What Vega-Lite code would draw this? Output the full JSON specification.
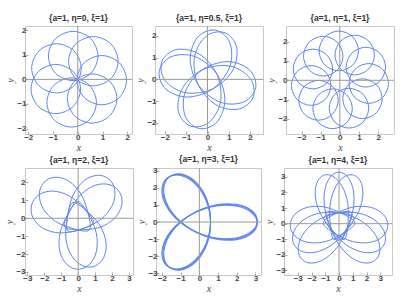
{
"$schema": "https://vega.github.io/schema/vega-lite/v6.json",
"padding": {"left": 4, "top": 13, "right": 2, "bottom": 2},
"config": {
 "view": {"stroke": "#c8c8c8", "strokeWidth": 1},
 "axis": {"grid": false, "domain": false, "tickColor": "#999999", "tickSize": -3, "tickWidth": 0.8, "labelOverlap": false, "labelBound": false, "labelFlush": false, "labelFont": "Liberation Sans", "labelFontSize": 8, "labelFontWeight": "bold", "labelColor": "#444444", "labelPadding": 2, "titleFont": "Liberation Serif", "titleFontStyle": "italic", "titleFontWeight": "normal", "titleFontSize": 10, "titleColor": "#444444", "titlePadding": 1},
 "title": {"font": "Liberation Sans", "fontSize": 8.5, "fontWeight": "bold", "color": "#333333", "offset": 3}
},
"datasets": {
"p1": [
{"k":0,"i":0,"x":0.815,"y":0.952},{"k":0,"i":1,"x":0.522,"y":1.659},{"k":0,"i":2,"x":-0.185,"y":1.952},{"k":0,"i":3,"x":-0.892,"y":1.659},{"k":0,"i":4,"x":-1.185,"y":0.952},{"k":0,"i":5,"x":-0.892,"y":0.245},{"k":0,"i":6,"x":-0.185,"y":-0.048},{"k":0,"i":7,"x":0.522,"y":0.245},
{"k":1,"i":0,"x":0.140,"y":0.449},{"k":1,"i":1,"x":-0.153,"y":1.156},{"k":1,"i":2,"x":-0.860,"y":1.449},{"k":1,"i":3,"x":-1.567,"y":1.156},{"k":1,"i":4,"x":-1.860,"y":0.449},{"k":1,"i":5,"x":-1.567,"y":-0.258},{"k":1,"i":6,"x":-0.860,"y":-0.551},{"k":1,"i":7,"x":-0.153,"y":-0.258},
{"k":2,"i":0,"x":0.113,"y":-0.392},{"k":2,"i":1,"x":-0.180,"y":0.315},{"k":2,"i":2,"x":-0.887,"y":0.608},{"k":2,"i":3,"x":-1.594,"y":0.315},{"k":2,"i":4,"x":-1.887,"y":-0.392},{"k":2,"i":5,"x":-1.594,"y":-1.099},{"k":2,"i":6,"x":-0.887,"y":-1.392},{"k":2,"i":7,"x":-0.180,"y":-1.099},
{"k":3,"i":0,"x":0.754,"y":-0.938},{"k":3,"i":1,"x":0.461,"y":-0.231},{"k":3,"i":2,"x":-0.246,"y":0.062},{"k":3,"i":3,"x":-0.953,"y":-0.231},{"k":3,"i":4,"x":-1.246,"y":-0.938},{"k":3,"i":5,"x":-0.953,"y":-1.645},{"k":3,"i":6,"x":-0.246,"y":-1.938},{"k":3,"i":7,"x":0.461,"y":-1.645},
{"k":4,"i":0,"x":1.580,"y":-0.778},{"k":4,"i":1,"x":1.287,"y":-0.071},{"k":4,"i":2,"x":0.580,"y":0.222},{"k":4,"i":3,"x":-0.127,"y":-0.071},{"k":4,"i":4,"x":-0.420,"y":-0.778},{"k":4,"i":5,"x":-0.127,"y":-1.485},{"k":4,"i":6,"x":0.580,"y":-1.778},{"k":4,"i":7,"x":1.287,"y":-1.485},
{"k":5,"i":0,"x":1.970,"y":-0.032},{"k":5,"i":1,"x":1.677,"y":0.675},{"k":5,"i":2,"x":0.970,"y":0.968},{"k":5,"i":3,"x":0.263,"y":0.675},{"k":5,"i":4,"x":-0.030,"y":-0.032},{"k":5,"i":5,"x":0.263,"y":-0.739},{"k":5,"i":6,"x":0.970,"y":-1.032},{"k":5,"i":7,"x":1.677,"y":-0.739},
{"k":6,"i":0,"x":1.629,"y":0.739},{"k":6,"i":1,"x":1.336,"y":1.446},{"k":6,"i":2,"x":0.629,"y":1.739},{"k":6,"i":3,"x":-0.078,"y":1.446},{"k":6,"i":4,"x":-0.371,"y":0.739},{"k":6,"i":5,"x":-0.078,"y":0.032},{"k":6,"i":6,"x":0.629,"y":-0.261},{"k":6,"i":7,"x":1.336,"y":0.032}
],
"p2": [
{"k":0,"i":0,"x":0.360,"y":2.272},{"k":0,"i":1,"x":-0.457,"y":1.954},{"k":0,"i":2,"x":-0.816,"y":0.918},{"k":0,"i":3,"x":-0.405,"y":-0.294},{"k":0,"i":4,"x":0.620,"y":-1.060},{"k":0,"i":5,"x":1.718,"y":-1.039},{"k":0,"i":6,"x":2.272,"y":-0.360},{"k":0,"i":7,"x":1.954,"y":0.457},{"k":0,"i":8,"x":0.918,"y":0.816},{"k":0,"i":9,"x":-0.295,"y":0.405},{"k":0,"i":10,"x":-1.060,"y":-0.620},{"k":0,"i":11,"x":-1.039,"y":-1.718},{"k":0,"i":12,"x":-0.360,"y":-2.272},{"k":0,"i":13,"x":0.457,"y":-1.954},{"k":0,"i":14,"x":0.816,"y":-0.918},{"k":0,"i":15,"x":0.405,"y":0.295},{"k":0,"i":16,"x":-0.620,"y":1.060},{"k":0,"i":17,"x":-1.718,"y":1.039},{"k":0,"i":18,"x":-2.272,"y":0.360},{"k":0,"i":19,"x":-1.954,"y":-0.457},{"k":0,"i":20,"x":-0.918,"y":-0.816},{"k":0,"i":21,"x":0.295,"y":-0.405},{"k":0,"i":22,"x":1.060,"y":0.620},{"k":0,"i":23,"x":1.039,"y":1.718},
{"k":1,"i":0,"x":0.824,"y":2.147},{"k":1,"i":1,"x":-0.041,"y":2.007},{"k":1,"i":2,"x":-0.608,"y":1.067},{"k":1,"i":3,"x":-0.457,"y":-0.203},{"k":1,"i":4,"x":0.387,"y":-1.166},{"k":1,"i":5,"x":1.465,"y":-1.373},{"k":1,"i":6,"x":2.147,"y":-0.824},{"k":1,"i":7,"x":2.007,"y":0.041},{"k":1,"i":8,"x":1.067,"y":0.608},{"k":1,"i":9,"x":-0.203,"y":0.457},{"k":1,"i":10,"x":-1.166,"y":-0.387},{"k":1,"i":11,"x":-1.373,"y":-1.465},{"k":1,"i":12,"x":-0.824,"y":-2.147},{"k":1,"i":13,"x":0.041,"y":-2.007},{"k":1,"i":14,"x":0.608,"y":-1.067},{"k":1,"i":15,"x":0.457,"y":0.203},{"k":1,"i":16,"x":-0.387,"y":1.166},{"k":1,"i":17,"x":-1.465,"y":1.373},{"k":1,"i":18,"x":-2.147,"y":0.824},{"k":1,"i":19,"x":-2.007,"y":-0.041},{"k":1,"i":20,"x":-1.067,"y":-0.608},{"k":1,"i":21,"x":0.203,"y":-0.457},{"k":1,"i":22,"x":1.166,"y":0.387},{"k":1,"i":23,"x":1.373,"y":1.465}
],
"p3": [
{"k":0,"i":0,"x":0.977,"y":1.519},{"k":0,"i":1,"x":0.675,"y":2.247},{"k":0,"i":2,"x":-0.053,"y":2.549},{"k":0,"i":3,"x":-0.781,"y":2.247},{"k":0,"i":4,"x":-1.083,"y":1.519},{"k":0,"i":5,"x":-0.781,"y":0.791},{"k":0,"i":6,"x":-0.053,"y":0.489},{"k":0,"i":7,"x":0.675,"y":0.791},
{"k":1,"i":0,"x":0.164,"y":1.249},{"k":1,"i":1,"x":-0.138,"y":1.977},{"k":1,"i":2,"x":-0.866,"y":2.279},{"k":1,"i":3,"x":-1.594,"y":1.977},{"k":1,"i":4,"x":-1.896,"y":1.249},{"k":1,"i":5,"x":-1.594,"y":0.521},{"k":1,"i":6,"x":-0.866,"y":0.219},{"k":1,"i":7,"x":-0.138,"y":0.521},
{"k":2,"i":0,"x":-0.374,"y":0.583},{"k":2,"i":1,"x":-0.676,"y":1.311},{"k":2,"i":2,"x":-1.404,"y":1.613},{"k":2,"i":3,"x":-2.132,"y":1.311},{"k":2,"i":4,"x":-2.434,"y":0.583},{"k":2,"i":5,"x":-2.132,"y":-0.145},{"k":2,"i":6,"x":-1.404,"y":-0.447},{"k":2,"i":7,"x":-0.676,"y":-0.145},
{"k":3,"i":0,"x":-0.466,"y":-0.269},{"k":3,"i":1,"x":-0.768,"y":0.459},{"k":3,"i":2,"x":-1.496,"y":0.761},{"k":3,"i":3,"x":-2.224,"y":0.459},{"k":3,"i":4,"x":-2.526,"y":-0.269},{"k":3,"i":5,"x":-2.224,"y":-0.997},{"k":3,"i":6,"x":-1.496,"y":-1.299},{"k":3,"i":7,"x":-0.768,"y":-0.997},
{"k":4,"i":0,"x":-0.083,"y":-1.035},{"k":4,"i":1,"x":-0.385,"y":-0.307},{"k":4,"i":2,"x":-1.113,"y":-0.005},{"k":4,"i":3,"x":-1.841,"y":-0.307},{"k":4,"i":4,"x":-2.143,"y":-1.035},{"k":4,"i":5,"x":-1.841,"y":-1.763},{"k":4,"i":6,"x":-1.113,"y":-2.065},{"k":4,"i":7,"x":-0.385,"y":-1.763},
{"k":5,"i":0,"x":0.653,"y":-1.473},{"k":5,"i":1,"x":0.351,"y":-0.745},{"k":5,"i":2,"x":-0.377,"y":-0.443},{"k":5,"i":3,"x":-1.105,"y":-0.745},{"k":5,"i":4,"x":-1.407,"y":-1.473},{"k":5,"i":5,"x":-1.105,"y":-2.201},{"k":5,"i":6,"x":-0.377,"y":-2.503},{"k":5,"i":7,"x":0.351,"y":-2.201},
{"k":6,"i":0,"x":1.509,"y":-1.443},{"k":6,"i":1,"x":1.207,"y":-0.715},{"k":6,"i":2,"x":0.479,"y":-0.413},{"k":6,"i":3,"x":-0.249,"y":-0.715},{"k":6,"i":4,"x":-0.551,"y":-1.443},{"k":6,"i":5,"x":-0.249,"y":-2.171},{"k":6,"i":6,"x":0.479,"y":-2.473},{"k":6,"i":7,"x":1.207,"y":-2.171},
{"k":7,"i":0,"x":2.213,"y":-0.954},{"k":7,"i":1,"x":1.911,"y":-0.226},{"k":7,"i":2,"x":1.183,"y":0.076},{"k":7,"i":3,"x":0.455,"y":-0.226},{"k":7,"i":4,"x":0.153,"y":-0.954},{"k":7,"i":5,"x":0.455,"y":-1.682},{"k":7,"i":6,"x":1.183,"y":-1.984},{"k":7,"i":7,"x":1.911,"y":-1.682},
{"k":8,"i":0,"x":2.541,"y":-0.164},{"k":8,"i":1,"x":2.239,"y":0.564},{"k":8,"i":2,"x":1.511,"y":0.866},{"k":8,"i":3,"x":0.783,"y":0.564},{"k":8,"i":4,"x":0.481,"y":-0.164},{"k":8,"i":5,"x":0.783,"y":-0.892},{"k":8,"i":6,"x":1.511,"y":-1.194},{"k":8,"i":7,"x":2.239,"y":-0.892},
{"k":9,"i":0,"x":2.390,"y":0.679},{"k":9,"i":1,"x":2.088,"y":1.407},{"k":9,"i":2,"x":1.360,"y":1.709},{"k":9,"i":3,"x":0.632,"y":1.407},{"k":9,"i":4,"x":0.330,"y":0.679},{"k":9,"i":5,"x":0.632,"y":-0.049},{"k":9,"i":6,"x":1.360,"y":-0.351},{"k":9,"i":7,"x":2.088,"y":-0.049},
{"k":10,"i":0,"x":1.807,"y":1.307},{"k":10,"i":1,"x":1.505,"y":2.035},{"k":10,"i":2,"x":0.777,"y":2.337},{"k":10,"i":3,"x":0.049,"y":2.035},{"k":10,"i":4,"x":-0.253,"y":1.307},{"k":10,"i":5,"x":0.049,"y":0.579},{"k":10,"i":6,"x":0.777,"y":0.277},{"k":10,"i":7,"x":1.505,"y":0.579}
],
"p4": [
{"k":0,"i":0,"x":0.000,"y":0.926},{"k":0,"i":1,"x":-0.575,"y":0.276},{"k":0,"i":2,"x":-1.067,"y":-0.812},{"k":0,"i":3,"x":-1.081,"y":-1.844},{"k":0,"i":4,"x":-0.663,"y":-2.582},{"k":0,"i":5,"x":0.000,"y":-2.850},{"k":0,"i":6,"x":0.663,"y":-2.582},{"k":0,"i":7,"x":1.081,"y":-1.844},{"k":0,"i":8,"x":1.067,"y":-0.812},{"k":0,"i":9,"x":0.575,"y":0.276},
{"k":1,"i":0,"x":-0.317,"y":0.870},{"k":1,"i":1,"x":-0.634,"y":0.062},{"k":1,"i":2,"x":-0.725,"y":-1.128},{"k":1,"i":3,"x":-0.385,"y":-2.103},{"k":1,"i":4,"x":0.260,"y":-2.653},{"k":1,"i":5,"x":0.975,"y":-2.678},{"k":1,"i":6,"x":1.506,"y":-2.199},{"k":1,"i":7,"x":1.647,"y":-1.363},{"k":1,"i":8,"x":1.281,"y":-0.398},{"k":1,"i":9,"x":0.446,"y":0.456},
{"k":2,"i":0,"x":-0.802,"y":-0.463},{"k":2,"i":1,"x":0.049,"y":-0.636},{"k":2,"i":2,"x":1.237,"y":-0.518},{"k":2,"i":3,"x":2.138,"y":-0.014},{"k":2,"i":4,"x":2.568,"y":0.717},{"k":2,"i":5,"x":2.468,"y":1.425},{"k":2,"i":6,"x":1.904,"y":1.865},{"k":2,"i":7,"x":1.056,"y":1.858},{"k":2,"i":8,"x":0.169,"y":1.330},{"k":2,"i":9,"x":-0.527,"y":0.360},
{"k":3,"i":0,"x":-0.595,"y":-0.709},{"k":3,"i":1,"x":0.263,"y":-0.581},{"k":3,"i":2,"x":1.339,"y":-0.064},{"k":3,"i":3,"x":2.013,"y":0.718},{"k":3,"i":4,"x":2.168,"y":1.552},{"k":3,"i":5,"x":1.832,"y":2.183},{"k":3,"i":6,"x":1.152,"y":2.404},{"k":3,"i":7,"x":0.357,"y":2.108},{"k":3,"i":8,"x":-0.295,"y":1.308},{"k":3,"i":9,"x":-0.617,"y":0.159},
{"k":4,"i":0,"x":0.894,"y":-0.240},{"k":4,"i":1,"x":0.416,"y":0.484},{"k":4,"i":2,"x":-0.508,"y":1.241},{"k":4,"i":3,"x":-1.501,"y":1.521},{"k":4,"i":4,"x":-2.322,"y":1.308},{"k":4,"i":5,"x":-2.753,"y":0.738},{"k":4,"i":6,"x":-2.666,"y":0.028},{"k":4,"i":7,"x":-2.061,"y":-0.567},{"k":4,"i":8,"x":-1.060,"y":-0.821},{"k":4,"i":9,"x":0.118,"y":-0.626},
{"k":5,"i":0,"x":0.655,"y":-0.655},{"k":5,"i":1,"x":0.602,"y":0.211},{"k":5,"i":2,"x":0.180,"y":1.329},{"k":5,"i":3,"x":-0.540,"y":2.068},{"k":5,"i":4,"x":-1.357,"y":2.295},{"k":5,"i":5,"x":-2.015,"y":2.015},{"k":5,"i":6,"x":-2.295,"y":1.357},{"k":5,"i":7,"x":-2.068,"y":0.540},{"k":5,"i":8,"x":-1.329,"y":-0.180},{"k":5,"i":9,"x":-0.211,"y":-0.602}
],
"p5": [
{"k":0,"i":0,"x":3.100,"y":0.000},{"k":0,"i":1,"x":2.809,"y":0.602},{"k":0,"i":2,"x":2.008,"y":0.977},{"k":0,"i":3,"x":0.884,"y":0.966},{"k":0,"i":4,"x":-0.300,"y":0.520},{"k":0,"i":5,"x":-1.279,"y":-0.282},{"k":0,"i":6,"x":-1.850,"y":-1.250},{"k":0,"i":7,"x":-1.926,"y":-2.132},{"k":0,"i":8,"x":-1.550,"y":-2.685},{"k":0,"i":9,"x":-0.883,"y":-2.734},{"k":0,"i":10,"x":-0.158,"y":-2.227},{"k":0,"i":11,"x":0.395,"y":-1.249},{"k":0,"i":12,"x":0.600,"y":0.000},{"k":0,"i":13,"x":0.395,"y":1.249},{"k":0,"i":14,"x":-0.158,"y":2.227},{"k":0,"i":15,"x":-0.883,"y":2.734},{"k":0,"i":16,"x":-1.550,"y":2.685},{"k":0,"i":17,"x":-1.926,"y":2.132},{"k":0,"i":18,"x":-1.850,"y":1.250},{"k":0,"i":19,"x":-1.279,"y":0.282},{"k":0,"i":20,"x":-0.300,"y":-0.520},{"k":0,"i":21,"x":0.884,"y":-0.966},{"k":0,"i":22,"x":2.008,"y":-0.977},{"k":0,"i":23,"x":2.809,"y":-0.602},
{"k":1,"i":0,"x":3.100,"y":0.081},{"k":1,"i":1,"x":2.793,"y":0.676},{"k":1,"i":2,"x":1.982,"y":1.030},{"k":1,"i":3,"x":0.859,"y":0.989},{"k":1,"i":4,"x":-0.314,"y":0.512},{"k":1,"i":5,"x":-1.272,"y":-0.316},{"k":1,"i":6,"x":-1.817,"y":-1.298},{"k":1,"i":7,"x":-1.870,"y":-2.182},{"k":1,"i":8,"x":-1.480,"y":-2.726},{"k":1,"i":9,"x":-0.811,"y":-2.757},{"k":1,"i":10,"x":-0.100,"y":-2.231},{"k":1,"i":11,"x":0.428,"y":-1.239},{"k":1,"i":12,"x":0.600,"y":0.016},{"k":1,"i":13,"x":0.362,"y":1.259},{"k":1,"i":14,"x":-0.216,"y":2.223},{"k":1,"i":15,"x":-0.955,"y":2.711},{"k":1,"i":16,"x":-1.620,"y":2.644},{"k":1,"i":17,"x":-1.982,"y":2.082},{"k":1,"i":18,"x":-1.883,"y":1.202},{"k":1,"i":19,"x":-1.286,"y":0.248},{"k":1,"i":20,"x":-0.286,"y":-0.528},{"k":1,"i":21,"x":0.909,"y":-0.943},{"k":1,"i":22,"x":2.034,"y":-0.924},{"k":1,"i":23,"x":2.825,"y":-0.528},
{"k":2,"i":0,"x":3.100,"y":-0.081},{"k":2,"i":1,"x":2.825,"y":0.528},{"k":2,"i":2,"x":2.034,"y":0.924},{"k":2,"i":3,"x":0.909,"y":0.943},{"k":2,"i":4,"x":-0.286,"y":0.528},{"k":2,"i":5,"x":-1.286,"y":-0.248},{"k":2,"i":6,"x":-1.883,"y":-1.202},{"k":2,"i":7,"x":-1.982,"y":-2.082},{"k":2,"i":8,"x":-1.620,"y":-2.644},{"k":2,"i":9,"x":-0.955,"y":-2.711},{"k":2,"i":10,"x":-0.216,"y":-2.223},{"k":2,"i":11,"x":0.362,"y":-1.259},{"k":2,"i":12,"x":0.600,"y":-0.016},{"k":2,"i":13,"x":0.428,"y":1.239},{"k":2,"i":14,"x":-0.100,"y":2.231},{"k":2,"i":15,"x":-0.811,"y":2.757},{"k":2,"i":16,"x":-1.480,"y":2.726},{"k":2,"i":17,"x":-1.870,"y":2.182},{"k":2,"i":18,"x":-1.817,"y":1.298},{"k":2,"i":19,"x":-1.272,"y":0.316},{"k":2,"i":20,"x":-0.314,"y":-0.512},{"k":2,"i":21,"x":0.859,"y":-0.989},{"k":2,"i":22,"x":1.982,"y":-1.030},{"k":2,"i":23,"x":2.793,"y":-0.676}
],
"p6": [
{"k":0,"i":0,"x":0.000,"y":-1.073},{"k":0,"i":1,"x":0.554,"y":-0.320},{"k":0,"i":2,"x":1.030,"y":0.941},{"k":0,"i":3,"x":1.043,"y":2.135},{"k":0,"i":4,"x":0.640,"y":2.990},{"k":0,"i":5,"x":0.000,"y":3.300},{"k":0,"i":6,"x":-0.640,"y":2.990},{"k":0,"i":7,"x":-1.043,"y":2.135},{"k":0,"i":8,"x":-1.030,"y":0.941},{"k":0,"i":9,"x":-0.554,"y":-0.320},
{"k":1,"i":0,"x":-0.367,"y":-1.008},{"k":1,"i":1,"x":0.411,"y":-0.490},{"k":1,"i":2,"x":1.290,"y":0.532},{"k":1,"i":3,"x":1.710,"y":1.650},{"k":1,"i":4,"x":1.624,"y":2.591},{"k":1,"i":5,"x":1.129,"y":3.101},{"k":1,"i":6,"x":0.421,"y":3.029},{"k":1,"i":7,"x":-0.250,"y":2.363},{"k":1,"i":8,"x":-0.646,"y":1.237},{"k":1,"i":9,"x":-0.630,"y":-0.111},
{"k":2,"i":0,"x":0.367,"y":-1.008},{"k":2,"i":1,"x":-0.411,"y":-0.490},{"k":2,"i":2,"x":-1.290,"y":0.532},{"k":2,"i":3,"x":-1.710,"y":1.650},{"k":2,"i":4,"x":-1.624,"y":2.591},{"k":2,"i":5,"x":-1.129,"y":3.101},{"k":2,"i":6,"x":-0.421,"y":3.029},{"k":2,"i":7,"x":0.250,"y":2.363},{"k":2,"i":8,"x":0.646,"y":1.237},{"k":2,"i":9,"x":0.630,"y":-0.111},
{"k":3,"i":0,"x":-1.153,"y":0.040},{"k":3,"i":1,"x":-0.365,"y":-0.584},{"k":3,"i":2,"x":0.972,"y":-1.142},{"k":3,"i":3,"x":2.257,"y":-1.201},{"k":3,"i":4,"x":3.190,"y":-0.801},{"k":3,"i":5,"x":3.548,"y":-0.124},{"k":3,"i":6,"x":3.238,"y":0.577},{"k":3,"i":7,"x":2.335,"y":1.041},{"k":3,"i":8,"x":1.050,"y":1.072},{"k":3,"i":9,"x":-0.323,"y":0.608},
{"k":4,"i":0,"x":-1.084,"y":0.395},{"k":4,"i":1,"x":-0.527,"y":-0.442},{"k":4,"i":2,"x":0.572,"y":-1.387},{"k":4,"i":3,"x":1.774,"y":-1.840},{"k":4,"i":4,"x":2.786,"y":-1.747},{"k":4,"i":5,"x":3.336,"y":-1.214},{"k":4,"i":6,"x":3.258,"y":-0.453},{"k":4,"i":7,"x":2.542,"y":0.268},{"k":4,"i":8,"x":1.330,"y":0.695},{"k":4,"i":9,"x":-0.119,"y":0.678},
{"k":5,"i":0,"x":-0.909,"y":0.711},{"k":5,"i":1,"x":-0.638,"y":-0.258},{"k":5,"i":2,"x":0.115,"y":-1.496},{"k":5,"i":3,"x":1.119,"y":-2.298},{"k":5,"i":4,"x":2.110,"y":-2.523},{"k":5,"i":5,"x":2.797,"y":-2.186},{"k":5,"i":6,"x":2.958,"y":-1.437},{"k":5,"i":7,"x":2.501,"y":-0.530},{"k":5,"i":8,"x":1.479,"y":0.250},{"k":5,"i":9,"x":0.096,"y":0.682},
{"k":6,"i":0,"x":1.153,"y":0.040},{"k":6,"i":1,"x":0.365,"y":-0.584},{"k":6,"i":2,"x":-0.972,"y":-1.142},{"k":6,"i":3,"x":-2.257,"y":-1.201},{"k":6,"i":4,"x":-3.190,"y":-0.801},{"k":6,"i":5,"x":-3.548,"y":-0.124},{"k":6,"i":6,"x":-3.238,"y":0.577},{"k":6,"i":7,"x":-2.335,"y":1.041},{"k":6,"i":8,"x":-1.050,"y":1.072},{"k":6,"i":9,"x":0.323,"y":0.608},
{"k":7,"i":0,"x":1.084,"y":0.395},{"k":7,"i":1,"x":0.527,"y":-0.442},{"k":7,"i":2,"x":-0.572,"y":-1.387},{"k":7,"i":3,"x":-1.774,"y":-1.840},{"k":7,"i":4,"x":-2.786,"y":-1.747},{"k":7,"i":5,"x":-3.336,"y":-1.214},{"k":7,"i":6,"x":-3.258,"y":-0.453},{"k":7,"i":7,"x":-2.542,"y":0.268},{"k":7,"i":8,"x":-1.330,"y":0.695},{"k":7,"i":9,"x":0.119,"y":0.678},
{"k":8,"i":0,"x":0.909,"y":0.711},{"k":8,"i":1,"x":0.638,"y":-0.258},{"k":8,"i":2,"x":-0.115,"y":-1.496},{"k":8,"i":3,"x":-1.119,"y":-2.298},{"k":8,"i":4,"x":-2.110,"y":-2.523},{"k":8,"i":5,"x":-2.797,"y":-2.186},{"k":8,"i":6,"x":-2.958,"y":-1.437},{"k":8,"i":7,"x":-2.501,"y":-0.530},{"k":8,"i":8,"x":-1.479,"y":0.250},{"k":8,"i":9,"x":-0.096,"y":0.682}
]
},
"spacing": 1,
"vconcat": [
{"spacing": 2, "hconcat": [
 {"width": 107, "height": 108, "title": "{a=1, η=0, ξ=1}", "layer": [
  {"data": {"name": "p1"}, "mark": {"type": "line", "interpolate": "cardinal-closed", "color": "#5d85ec", "strokeWidth": 1}, "encoding": {
   "x": {"field": "x", "type": "quantitative", "scale": {"domain": [-2.13, 2.19], "nice": false, "zero": false}, "axis": {"values": [-2, -1, 0, 1, 2], "title": "x"}},
   "y": {"field": "y", "type": "quantitative", "scale": {"domain": [-2.22, 2.17], "nice": false, "zero": false}, "axis": {"values": [-2, -1, 0, 1, 2], "title": "y"}},
   "detail": {"field": "k"}, "order": {"field": "i"}}},
  {"data": {"values": [{}]}, "mark": {"type": "rule", "color": "#9a9a9a", "strokeWidth": 1}, "encoding": {"x": {"datum": 0, "type": "quantitative", "axis": {"values": [-2, -1, 0, 1, 2], "title": "x"}}}},
  {"data": {"values": [{}]}, "mark": {"type": "rule", "color": "#9a9a9a", "strokeWidth": 1}, "encoding": {"y": {"datum": 0, "type": "quantitative", "axis": {"values": [-2, -1, 0, 1, 2], "title": "y"}}}}
 ]},
 {"width": 108, "height": 108, "title": "{a=1, η=0.5, ξ=1}", "layer": [
  {"data": {"name": "p2"}, "mark": {"type": "line", "interpolate": "cardinal-closed", "color": "#5d85ec", "strokeWidth": 1}, "encoding": {
   "x": {"field": "x", "type": "quantitative", "scale": {"domain": [-2.47, 2.61], "nice": false, "zero": false}, "axis": {"values": [-2, -1, 0, 1, 2], "title": "x"}},
   "y": {"field": "y", "type": "quantitative", "scale": {"domain": [-2.52, 2.46], "nice": false, "zero": false}, "axis": {"values": [-2, -1, 0, 1, 2], "title": "y"}},
   "detail": {"field": "k"}, "order": {"field": "i"}}},
  {"data": {"values": [{}]}, "mark": {"type": "rule", "color": "#9a9a9a", "strokeWidth": 1}, "encoding": {"x": {"datum": 0, "type": "quantitative", "axis": {"values": [-2, -1, 0, 1, 2], "title": "x"}}}},
  {"data": {"values": [{}]}, "mark": {"type": "rule", "color": "#9a9a9a", "strokeWidth": 1}, "encoding": {"y": {"datum": 0, "type": "quantitative", "axis": {"values": [-2, -1, 0, 1, 2], "title": "y"}}}}
 ]},
 {"width": 108, "height": 108, "title": "{a=1, η=1, ξ=1}", "layer": [
  {"data": {"name": "p3"}, "mark": {"type": "line", "interpolate": "cardinal-closed", "color": "#5d85ec", "strokeWidth": 1}, "encoding": {
   "x": {"field": "x", "type": "quantitative", "scale": {"domain": [-2.81, 2.83], "nice": false, "zero": false}, "axis": {"values": [-2, -1, 0, 1, 2], "title": "x"}},
   "y": {"field": "y", "type": "quantitative", "scale": {"domain": [-2.78, 2.81], "nice": false, "zero": false}, "axis": {"values": [-2, -1, 0, 1, 2], "title": "y"}},
   "detail": {"field": "k"}, "order": {"field": "i"}}},
  {"data": {"values": [{}]}, "mark": {"type": "rule", "color": "#9a9a9a", "strokeWidth": 1}, "encoding": {"x": {"datum": 0, "type": "quantitative", "axis": {"values": [-2, -1, 0, 1, 2], "title": "x"}}}},
  {"data": {"values": [{}]}, "mark": {"type": "rule", "color": "#9a9a9a", "strokeWidth": 1}, "encoding": {"y": {"datum": 0, "type": "quantitative", "axis": {"values": [-2, -1, 0, 1, 2], "title": "y"}}}}
 ]}
]},
{"spacing": 2, "hconcat": [
 {"width": 108, "height": 107, "title": "{a=1, η=2, ξ=1}", "layer": [
  {"data": {"name": "p4"}, "mark": {"type": "line", "interpolate": "cardinal-closed", "color": "#5d85ec", "strokeWidth": 1}, "encoding": {
   "x": {"field": "x", "type": "quantitative", "scale": {"domain": [-3.14, 3.24], "nice": false, "zero": false}, "axis": {"values": [-3, -2, -1, 0, 1, 2, 3], "title": "x"}},
   "y": {"field": "y", "type": "quantitative", "scale": {"domain": [-3.17, 2.81], "nice": false, "zero": false}, "axis": {"values": [-3, -2, -1, 0, 1, 2], "title": "y", "labelPadding": 3}},
   "detail": {"field": "k"}, "order": {"field": "i"}}},
  {"data": {"values": [{}]}, "mark": {"type": "rule", "color": "#9a9a9a", "strokeWidth": 1}, "encoding": {"x": {"datum": 0, "type": "quantitative", "axis": {"values": [-3, -2, -1, 0, 1, 2, 3], "title": "x"}}}},
  {"data": {"values": [{}]}, "mark": {"type": "rule", "color": "#9a9a9a", "strokeWidth": 1}, "encoding": {"y": {"datum": 0, "type": "quantitative", "axis": {"values": [-3, -2, -1, 0, 1, 2], "title": "y", "labelPadding": 3}}}}
 ]},
 {"width": 105, "height": 107, "title": "{a=1, η=3, ξ=1}", "layer": [
  {"data": {"name": "p5"}, "mark": {"type": "line", "interpolate": "cardinal-closed", "color": "#5d85ec", "strokeWidth": 1.1}, "encoding": {
   "x": {"field": "x", "type": "quantitative", "scale": {"domain": [-2.32, 3.3], "nice": false, "zero": false}, "axis": {"values": [-2, -1, 0, 1, 2, 3], "title": "x"}},
   "y": {"field": "y", "type": "quantitative", "scale": {"domain": [-3.1, 3.16], "nice": false, "zero": false}, "axis": {"values": [-3, -2, -1, 0, 1, 2, 3], "title": "y"}},
   "detail": {"field": "k"}, "order": {"field": "i"}}},
  {"data": {"values": [{}]}, "mark": {"type": "rule", "color": "#9a9a9a", "strokeWidth": 1}, "encoding": {"x": {"datum": 0, "type": "quantitative", "axis": {"values": [-2, -1, 0, 1, 2, 3], "title": "x"}}}},
  {"data": {"values": [{}]}, "mark": {"type": "rule", "color": "#9a9a9a", "strokeWidth": 1}, "encoding": {"y": {"datum": 0, "type": "quantitative", "axis": {"values": [-3, -2, -1, 0, 1, 2, 3], "title": "y"}}}}
 ]},
 {"width": 108, "height": 107, "title": "{a=1, η=4, ξ=1}", "layer": [
  {"data": {"name": "p6"}, "mark": {"type": "line", "interpolate": "cardinal-closed", "color": "#5d85ec", "strokeWidth": 1}, "encoding": {
   "x": {"field": "x", "type": "quantitative", "scale": {"domain": [-4.0, 3.85], "nice": false, "zero": false}, "axis": {"values": [-3, -2, -1, 0, 1, 2, 3], "title": "x"}},
   "y": {"field": "y", "type": "quantitative", "scale": {"domain": [-3.29, 3.57], "nice": false, "zero": false}, "axis": {"values": [-3, -2, -1, 0, 1, 2, 3], "title": "y"}},
   "detail": {"field": "k"}, "order": {"field": "i"}}},
  {"data": {"values": [{}]}, "mark": {"type": "rule", "color": "#9a9a9a", "strokeWidth": 1}, "encoding": {"x": {"datum": 0, "type": "quantitative", "axis": {"values": [-3, -2, -1, 0, 1, 2, 3], "title": "x"}}}},
  {"data": {"values": [{}]}, "mark": {"type": "rule", "color": "#9a9a9a", "strokeWidth": 1}, "encoding": {"y": {"datum": 0, "type": "quantitative", "axis": {"values": [-3, -2, -1, 0, 1, 2, 3], "title": "y"}}}}
 ]}
]}
]
}
